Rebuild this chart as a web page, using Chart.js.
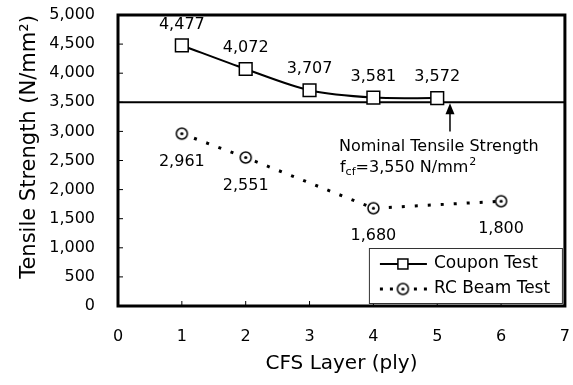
<!DOCTYPE html>
<html>
<head>
<meta charset="utf-8">
<script src="https://cdn.jsdelivr.net/npm/chart.js@4/dist/chart.umd.min.js"></script>
<style>
  html, body { margin: 0; padding: 0; background: #fff; }
</style>
</head>
<body>
<canvas id="myChart" width="573" height="385"></canvas>
<script>
const couponLayers = [1, 2, 3, 4, 5];
const couponStrength = [4477, 4072, 3707, 3581, 3572];
const beamLayers = [1, 2, 4, 6];
const beamStrength = [2961, 2551, 1680, 1800];
const seriesNames = ['Coupon Test', 'RC Beam Test'];
const nominalLine = 3500;   // the reference line sits on the 3,500 gridline
const xTitle = 'CFS Layer (ply)';
const yTitle = 'Tensile Strength (N/mm\u00B2)';

const FAMILY = '"DejaVu Sans", sans-serif';
const fmt = v => v.toLocaleString('en-US');

// circle with a dot in the middle, used as point marker
function circleDot(r) {
    const s = Math.ceil(r * 2 + 4);
    const c = document.createElement('canvas');
    c.width = c.height = s;
    const g = c.getContext('2d');
    g.beginPath();
    g.arc(s / 2, s / 2, r, 0, Math.PI * 2);
    g.fillStyle = '#fff';
    g.fill();
    g.lineWidth = 1.5;
    g.strokeStyle = '#000';
    g.stroke();
    g.beginPath();
    g.arc(s / 2, s / 2, 1.6, 0, Math.PI * 2);
    g.fillStyle = '#000';
    g.fill();
    return c;
}
const beamMarker = circleDot(5.5);

function seg(ctx, x1, y1, x2, y2) {
    ctx.beginPath();
    ctx.moveTo(x1, y1);
    ctx.lineTo(x2, y2);
    ctx.stroke();
}

const decorations = {
    id: 'decorations',
    beforeDatasetsDraw(chart) {
        const { ctx, chartArea: a, scales: { x, y } } = chart;
        ctx.save();
        ctx.strokeStyle = '#000';
        // nominal strength line
        ctx.lineWidth = 2;
        const yn = y.getPixelForValue(nominalLine);
        seg(ctx, a.left, yn, a.right, yn);
        // small inward ticks
        ctx.lineWidth = 1;
        y.ticks.forEach(t => {
            const py = y.getPixelForValue(t.value);
            seg(ctx, a.left, py, a.left + 5, py);
        });
        x.ticks.forEach(t => {
            const px = x.getPixelForValue(t.value);
            seg(ctx, px, a.bottom, px, a.bottom - 5);
        });
        ctx.restore();
    },
    afterDatasetsDraw(chart) {
        const { ctx, chartArea: a, scales: { x, y } } = chart;
        ctx.save();
        ctx.fillStyle = '#000';
        ctx.strokeStyle = '#000';

        // value labels
        ctx.font = '16px ' + FAMILY;
        ctx.textAlign = 'center';
        ctx.textBaseline = 'middle';
        const offsets = [-21, 28];
        chart.data.datasets.forEach((ds, i) => {
            chart.getDatasetMeta(i).data.forEach((pt, j) => {
                ctx.fillText(fmt(ds.data[j].y), pt.x, pt.y + offsets[i]);
            });
        });

        // plot frame
        ctx.lineWidth = 3;
        ctx.strokeRect(a.left, a.top, a.right - a.left, a.bottom - a.top);

        // arrow + annotation
        const yn = y.getPixelForValue(nominalLine);
        const ax = x.getPixelForValue(5.2);
        ctx.beginPath();
        ctx.moveTo(ax, yn + 1);
        ctx.lineTo(ax - 4.5, yn + 12);
        ctx.lineTo(ax + 4.5, yn + 12);
        ctx.closePath();
        ctx.fill();
        ctx.lineWidth = 1.5;
        seg(ctx, ax, yn + 10, ax, y.getPixelForValue(3000));

        ctx.textAlign = 'left';
        ctx.font = '16px ' + FAMILY;
        let tx = ax - 111;
        ctx.fillText('Nominal Tensile Strength', tx, yn + 45);
        const ly = yn + 66;
        tx += 1;
        ctx.fillText('f', tx, ly);
        tx += ctx.measureText('f').width;
        ctx.font = '11px ' + FAMILY;
        ctx.fillText('cf', tx, ly + 4);
        tx += ctx.measureText('cf').width;
        ctx.font = '16px ' + FAMILY;
        const main = '=3,550 N/mm';
        ctx.fillText(main, tx, ly);
        tx += ctx.measureText(main).width;
        ctx.font = '11px ' + FAMILY;
        ctx.fillText('2', tx + 1, ly - 6);

        // y title
        ctx.save();
        ctx.font = '21px ' + FAMILY;
        ctx.textAlign = 'center';
        ctx.textBaseline = 'alphabetic';
        ctx.translate(35, 147);
        ctx.rotate(-Math.PI / 2);
        ctx.fillText(yTitle, 0, 0);
        ctx.restore();

        // legend box inside plot, lower right
        const bw = 193, bh = 55;
        const bx = a.right - 3 - bw, by = a.bottom - 3 - bh;
        ctx.fillStyle = '#fff';
        ctx.fillRect(bx, by, bw, bh);
        ctx.lineWidth = 1;
        ctx.strokeStyle = '#333';
        ctx.strokeRect(bx + 0.5, by + 0.5, bw, bh);
        ctx.strokeStyle = '#000';
        ctx.fillStyle = '#000';
        const r1 = by + 16, r2 = by + 41;
        const lx1 = bx + 11, lx2 = bx + 58, mx = bx + 34;
        ctx.lineWidth = 2;
        seg(ctx, lx1, r1, lx2, r1);
        ctx.fillStyle = '#fff';
        ctx.fillRect(mx - 5, r1 - 5, 10, 10);
        ctx.lineWidth = 1.5;
        ctx.strokeRect(mx - 5, r1 - 5, 10, 10);
        ctx.lineWidth = 3;
        ctx.setLineDash([3, 7]);
        seg(ctx, lx1, r2, mx - 6, r2);
        seg(ctx, lx2, r2, mx + 6, r2);
        ctx.setLineDash([]);
        ctx.drawImage(beamMarker, mx - beamMarker.width / 2, r2 - beamMarker.height / 2);
        ctx.fillStyle = '#000';
        ctx.font = '17px ' + FAMILY;
        ctx.textAlign = 'left';
        ctx.textBaseline = 'middle';
        ctx.fillText(seriesNames[0], bx + 65, r1);
        ctx.fillText(seriesNames[1], bx + 65, r2);

        ctx.restore();
    }
};

const data = {
    datasets: [{
        label: seriesNames[0],
        data: couponLayers.map((v, i) => ({ x: v, y: couponStrength[i] })),
        borderColor: '#000',
        borderWidth: 2,
        tension: 0.3,
        fill: false,
        clip: false,
        pointStyle: 'rect',
        pointRadius: 9,
        pointBackgroundColor: '#fff',
        pointBorderColor: '#000',
        pointBorderWidth: 1.5
    }, {
        label: seriesNames[1],
        data: beamLayers.map((v, i) => ({ x: v, y: beamStrength[i] })),
        borderColor: '#000',
        borderWidth: 3,
        borderDash: [3, 10],
        tension: 0,
        fill: false,
        clip: false,
        pointStyle: beamMarker,
        pointRadius: 6
    }]
};

// invisible tick marks push the labels away from the axis without
// inflating the layout padding (ticks.padding is added to it)
const hiddenTicks = len => ({
    display: true,
    drawOnChartArea: false,
    drawTicks: true,
    tickLength: len,
    tickColor: 'rgba(0,0,0,0)',
    color: 'rgba(0,0,0,0)'
});

const ctx = document.getElementById('myChart');
const myChart = new Chart(ctx, {
    type: 'line',
    data: data,
    options: {
        responsive: false,
        animation: false,
        layout: { autoPadding: false, padding: { top: 15, right: 8, left: 0, bottom: 0 } },
        plugins: {
            legend: { display: false },
            tooltip: { enabled: false }
        },
        scales: {
            x: {
                type: 'linear',
                min: 0,
                max: 7,
                afterFit: s => { s.height = 79; },
                ticks: { stepSize: 1, padding: 3, color: '#000', font: { family: FAMILY, size: 16 } },
                grid: hiddenTicks(18),
                border: { display: false },
                title: {
                    display: true,
                    text: xTitle,
                    color: '#000',
                    font: { family: FAMILY, size: 20 },
                    padding: { top: 0, bottom: 9 }
                }
            },
            y: {
                min: 0,
                max: 5000,
                afterFit: s => { s.width = 118; },
                ticks: {
                    stepSize: 500,
                    padding: 3,
                    color: '#000',
                    font: { family: FAMILY, size: 16 },
                    callback: v => fmt(v)
                },
                grid: hiddenTicks(20),
                border: { display: false }
            }
        }
    },
    plugins: [decorations]
});
</script>
</body>
</html>
